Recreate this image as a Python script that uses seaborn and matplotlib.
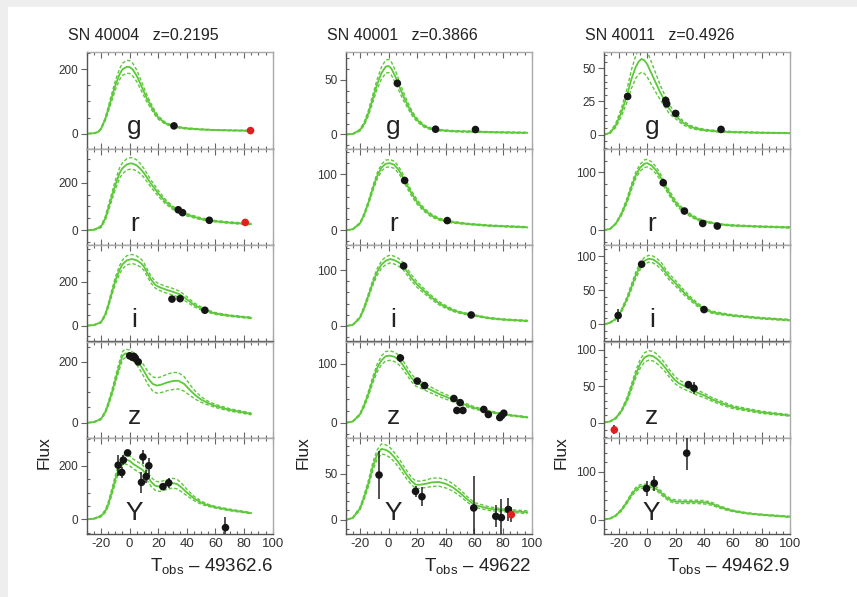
import numpy as np
import pandas as pd
import matplotlib
matplotlib.use("Agg")
import matplotlib.pyplot as plt
from matplotlib.ticker import MultipleLocator, FixedLocator
from matplotlib.patches import Rectangle
import seaborn as sns

# ---------------- data ----------------
sn_names = ["SN 40004", "SN 40001", "SN 40011"]
sn_z = ["z=0.2195", "z=0.3866", "z=0.4926"]
t_offsets = ["49362.6", "49622", "49462.9"]
bands = ["g", "r", "i", "z", "Y"]

# SN 40004 model curves (t, flux, half-width of band)
a_g_t = [-29,-25,-22,-20,-17,-15,-12,-10,-7,-5,-2,0,2,5,8,10,12,15,18,20,25,30,35,40,50,60,70,85]
a_g_f = [0,1,5,15,45,75,120,150,185,200,208,207,200,180,150,130,110,85,62,50,32,24,19,16,13,11,10,9]
a_g_w = [0,0,1,2,5,8,12,14,17,19,20,20,20,18,15,13,11,8,6,5,3,2,2,2,1,1,1,1]
a_r_t = [-29,-25,-20,-17,-15,-12,-10,-7,-5,-2,0,2,5,8,10,15,20,25,30,35,40,50,60,70,85]
a_r_f = [0,2,15,50,90,150,190,240,260,276,280,280,272,255,240,195,155,120,95,78,65,48,38,32,26]
a_r_w = [0,1,4,8,12,16,19,22,23,24,24,24,23,21,19,15,12,9,7,6,5,4,3,3,3]
a_i_t = [-29,-25,-20,-17,-15,-12,-10,-7,-5,-2,0,2,5,8,10,12,15,18,20,25,30,35,40,45,50,55,60,70,85]
a_i_f = [0,2,15,50,90,160,205,255,280,298,302,304,298,285,270,245,210,186,178,165,155,143,120,95,78,65,55,45,35]
a_i_w = [0,1,3,6,9,13,16,19,20,21,21,21,20,19,18,17,16,15,15,15,15,14,12,9,7,5,4,3,3]
a_z_t = [-29,-25,-20,-17,-15,-12,-10,-7,-5,-3,0,3,5,8,10,13,16,19,22,26,30,34,38,42,46,50,55,60,70,85]
a_z_f = [0,2,12,35,60,105,140,190,220,228,225,215,205,185,170,145,128,122,125,132,137,138,128,108,90,76,64,55,42,29]
a_z_w = [0,1,2,4,6,9,11,13,14,14,14,14,15,17,19,21,23,25,26,27,28,27,24,18,13,9,6,5,4,3]
a_Y_t = [-29,-25,-20,-17,-15,-12,-10,-7,-5,-3,0,3,6,9,12,15,18,21,25,30,33,36,40,45,50,55,60,70,85]
a_Y_f = [0,2,12,30,55,110,150,200,220,225,218,205,195,185,165,140,125,122,128,135,132,120,100,78,62,52,45,35,23]
a_Y_w = [0,1,3,5,8,12,14,16,17,18,18,18,18,18,18,17,17,18,18,18,18,16,12,8,6,4,3,3,2]

# SN 40004 observations (t, flux, error, red flag)
a_g_pt = [31, 84.5];  a_g_pf = [24, 9.4];  a_g_pe = [2, 2];  a_g_pr = [0, 1]
a_r_pt = [34, 37, 55.7, 80.8];  a_r_pf = [86, 74, 42, 33];  a_r_pe = [3, 3, 4, 4];  a_r_pr = [0, 0, 0, 1]
a_i_pt = [29.6, 35.3, 52.6];  a_i_pf = [121, 123, 70];  a_i_pe = [3, 3, 3];  a_i_pr = [0, 0, 0]
a_z_pt = [0, 2, 3, 4, 6];  a_z_pf = [220, 215, 218, 212, 200];  a_z_pe = [4, 4, 4, 4, 4];  a_z_pr = [0, 0, 0, 0, 0]
a_Y_pt = [-8, -5.5, -4.4, -1.4, 8.3, 9.3, 11.6, 13.4, 23.3, 27.3, 67]
a_Y_pf = [202, 175, 221, 248, 138, 233, 160, 200, 122, 136, -31]
a_Y_pe = [40, 22, 20, 10, 40, 25, 25, 30, 12, 20, 40]
a_Y_pr = [0, 0, 0, 0, 0, 0, 0, 0, 0, 0, 0]

# SN 40001 model curves
b_g_t = [-29,-25,-20,-17,-14,-11,-8,-5,-2,0,2,5,8,11,14,17,20,25,30,35,45,60,75,97]
b_g_f = [0,0.5,4,10,20,33,46,56,62,62.5,60,52,42,33,25,18,13,7.5,5,4,3,2.5,2,1.5]
b_g_w = [0,0.2,0.8,1.5,2.5,3.5,4.5,5.5,6,6,6,5.5,4.5,3.5,2.5,2,1.5,1,0.8,0.6,0.5,0.5,0.4,0.4]
b_r_t = [-29,-25,-20,-17,-14,-11,-8,-5,-2,1,4,7,10,13,16,20,25,30,35,40,45,55,70,97]
b_r_f = [0,1.5,12,28,50,75,97,112,119,120,117,108,95,80,66,50,36,26,20,16,14,11,8,5]
b_r_w = [0,0.5,1.5,2.5,3.5,4.5,5.5,6,6.5,6.5,6.5,6,5.5,5,4.5,4,3,2.5,2,1.5,1.5,1,1,1]
b_i_t = [-29,-25,-20,-17,-14,-11,-8,-5,-2,1,4,7,10,13,16,20,25,30,35,40,45,50,58,70,80,97]
b_i_f = [0,2,15,33,55,78,97,110,117,120,118,114,108,97,86,74,62,51,41,34,28,24,19.6,14,11.5,9]
b_i_w = [0,0.5,1.5,3,4,5,6,6.5,7,7,7,7,6.5,6,5.5,5,4,3.5,3,2.5,2,1.5,1.2,1,1,1]
b_z_t = [-29,-25,-20,-17,-14,-11,-8,-5,-2,1,4,7,10,13,16,19,22,25,30,35,40,45,50,55,60,70,80,97]
b_z_f = [0,2,14,30,50,73,93,106,113,114,112,107,98,87,76,68,65,61,55,49,44,39,34,29,25,19,14,9]
b_z_w = [0,0.5,1.5,3,4,5.5,6.5,7.5,8,8,8,8,7.5,7,6.5,6,6,5.5,5,4.5,4,3.5,3,2.5,2,1.5,1,1]
b_Y_t = [-29,-25,-20,-17,-14,-11,-8,-5,-2,1,4,7,10,13,16,19,22,26,30,35,40,45,50,55,60,70,80,97]
b_Y_f = [0,2,12,25,40,58,71,77,76,73,68,62,55,48,42,38,38,39,40.5,41,39,35,29,22,16,12,10,8]
b_Y_w = [0,0.5,1.5,2.5,3.5,4.5,5,5.5,5.5,5.5,5,5,4.5,4.5,4,4,4,4,4.5,4.5,4.5,4,3.5,3,2.5,2,1.5,1.5]

# SN 40001 observations
b_g_pt = [6.1, 32.8, 60.7];  b_g_pf = [46.7, 4.8, 4.5];  b_g_pe = [1.5, 1, 1];  b_g_pr = [0, 0, 0]
b_r_pt = [11.2, 41];  b_r_pf = [89, 17];  b_r_pe = [2, 3];  b_r_pr = [0, 0]
b_i_pt = [10.5, 57.7];  b_i_pf = [107.7, 19.6];  b_i_pe = [3, 2];  b_i_pr = [0, 0]
b_z_pt = [8.2, 20, 25.1, 45.6, 47.7, 50, 51.9, 66.5, 69.7, 77.7, 79, 80.5]
b_z_pf = [110, 70.7, 63, 41, 20.7, 34, 20.7, 22.4, 13.8, 8.6, 12, 16]
b_z_pe = [7, 3, 3, 3, 3, 4, 4, 3, 3, 3, 3, 3]
b_z_pr = [0, 0, 0, 0, 0, 0, 0, 0, 0, 0, 0, 0]
b_Y_pt = [-6.7, 18.8, 23.3, 59.5, 74.9, 78.8, 83.7, 85.8]
b_Y_pf = [48.6, 30.8, 25, 12.7, 3.6, 2.2, 11, 5.4]
b_Y_pe = [26, 6, 10, 35, 12, 20, 12, 8]
b_Y_pr = [0, 0, 0, 0, 0, 0, 0, 1]

# SN 40011 model curves
c_g_t = [-30,-26,-22,-18,-14,-11,-8,-6,-4,-2,0,3,6,9,12,15,18,21,25,30,35,40,50,60,80,100]
c_g_f = [0,1.5,7,17,30,42,51,55,57,56,53,46,39,32,26,20,16,13,9,6,4.5,3.5,2.5,2,1.5,1.2]
c_g_w = [0,0.5,1.5,3,5,7,8.5,9.5,10,10,9.5,8.5,7,5.5,4.5,3.5,2.5,2,1.5,1,0.8,0.6,0.5,0.4,0.3,0.3]
c_r_t = [-30,-26,-22,-18,-14,-11,-8,-5,-2,0,3,6,9,12,15,18,21,25,30,35,40,50,60,80,100]
c_r_f = [0,2,11,28,52,75,95,108,115,116,112,104,93,79,66,54,44,35,26,19,15,10,8,6,4.6]
c_r_w = [0,0.5,1,2.5,4,5,5.5,6,6.5,6.5,6.5,6,5.5,5,4.5,4,3.5,3,2.5,2,1.5,1,1,1,1]
c_i_t = [-30,-26,-22,-18,-14,-11,-8,-5,-2,1,4,7,10,13,16,19,22,26,30,35,40,45,50,60,80,100]
c_i_f = [0,2.5,8,20,38,55,72,85,93,96,95,91,85,76,68,62,55,46,38,29,22,18,16,13,9,6.3]
c_i_w = [0,0.5,1,2,3,4,4.5,5,5,5,5,5,5,4.5,4.5,4,4,3.5,3,2.5,2,1.5,1.5,1,1,1]
c_z_t = [-30,-26,-22,-18,-14,-11,-8,-5,-2,1,4,7,10,13,16,19,22,26,30,35,40,45,50,60,80,100]
c_z_f = [0,1.5,6,16,32,49,66,80,89,92,91,87,81,74,66,59,54,50,46,41,37,32,28,21,14,9.7]
c_z_w = [0,0.3,0.8,1.5,3,4,5,6,6.5,6.5,6.5,6.5,6,5.5,5,5,4.5,4.5,4,3.5,3,2.5,2.5,2,1.5,1]
c_Y_t = [-30,-26,-22,-18,-14,-11,-8,-5,-2,1,4,7,10,13,16,19,25,30,35,40,45,50,55,60,70,80,100]
c_Y_f = [0,2,8,20,37,52,63,69,70,69,67,63,55,47,41,38,37,37,37,36,33,27,22,18,13,10,5.6]
c_Y_w = [0,0.5,1,2,3,3.5,4,4,4,4,4,4,4,3.5,3.5,3.5,3.5,3.5,3.5,3.5,3,2.5,2,1.5,1,1,1]

# SN 40011 observations
c_g_pt = [-13.7, 12.9, 13.6, 19.9, 51.6];  c_g_pf = [28.8, 25.8, 23.2, 16, 4];  c_g_pe = [1.5, 1.5, 1.5, 1.5, 1];  c_g_pr = [0, 0, 0, 0, 0]
c_r_pt = [11.2, 26, 38.8, 49];  c_r_pf = [82, 33, 11.5, 7];  c_r_pe = [2, 2, 3, 3];  c_r_pr = [0, 0, 0, 0]
c_i_pt = [-20.3, -3.9, 39.7];  c_i_pf = [13, 88, 21.7];  c_i_pe = [9, 3, 2];  c_i_pr = [0, 0, 0]
c_z_pt = [-23, 28.8, 32.7];  c_z_pf = [-10, 52, 47];  c_z_pe = [6, 5, 8];  c_z_pr = [1, 0, 0]
c_Y_pt = [-0.5, 4.9, 27.6];  c_Y_pf = [65, 76, 139];  c_Y_pe = [15, 16, 35];  c_Y_pr = [0, 0, 0]

# axis ranges and ticks per panel
ylims_a = [(-47, 253), (-62, 342), (-73, 368), (-50, 267), (-56, 304)]
ylims_b = [(-13, 75), (-27, 146), (-28, 145), (-26, 138), (-16, 89)]
ylims_c = [(-10.5, 62), (-26, 141), (-25, 116), (-21, 111), (-31, 171)]
yticks_a = [[0, 200], [0, 200], [0, 200], [0, 200], [0, 200]]
yticks_b = [[0, 50], [0, 100], [0, 100], [0, 100], [0, 50]]
yticks_c = [[0, 25, 50], [0, 100], [0, 50, 100], [0, 50, 100], [0, 100]]
yminor_a = [50, 50, 50, 50, 50]
yminor_b = [10, 20, 20, 20, 10]
yminor_c = [5, 20, 10, 10, 20]
xticks = [-20, 0, 20, 40, 60, 80, 100]

# ---------------- assemble ----------------
g = globals()
cols = []
for p, ylims, ytk, ymn in [("a", ylims_a, yticks_a, yminor_a),
                           ("b", ylims_b, yticks_b, yminor_b),
                           ("c", ylims_c, yticks_c, yminor_c)]:
    panels = []
    for k, b in enumerate(bands):
        panels.append(dict(
            t=g[f"{p}_{b}_t"], f=g[f"{p}_{b}_f"], w=g[f"{p}_{b}_w"],
            pt=g[f"{p}_{b}_pt"], pf=g[f"{p}_{b}_pf"], pe=g[f"{p}_{b}_pe"], pr=g[f"{p}_{b}_pr"],
            ylim=ylims[k], yt=ytk[k], ym=ymn[k]))
    cols.append(panels)

# ---------------- style ----------------
sns.set_style("ticks")
plt.rcParams["font.family"] = ["Liberation Sans", "DejaVu Sans"]
plt.rcParams["mathtext.fontset"] = "custom"
plt.rcParams["mathtext.rm"] = "Liberation Sans"
plt.rcParams["mathtext.it"] = "Liberation Sans"

GREEN = "#5cc83a"
RED = "#e02020"
W, H = 857, 597

fig = plt.figure(figsize=(W / 100, H / 100), dpi=100)
fig.patch.set_facecolor("#eeeeee")
fig.patches.append(Rectangle((8 / W, 0), 1, 1 - 7 / H, transform=fig.transFigure,
                             facecolor="white", edgecolor="none", zorder=-10))

lefts = [86.7, 345.7, 604.3]
aw = 186.0
top_px, bot_px = 52.3, 534.3
ph = (bot_px - top_px) / 5

for ci, panels in enumerate(cols):
    L = lefts[ci]
    for ri, P in enumerate(panels):
        y0 = top_px + ri * ph
        ax = fig.add_axes([L / W, 1 - (y0 + ph) / H, aw / W, ph / H])
        t = np.array(P["t"], float)
        f = np.array(P["f"], float)
        w = np.array(P["w"], float)
        sns.lineplot(x=t, y=f + w, ax=ax, color=GREEN, lw=1.0, estimator=None, sort=False,
                     linestyle=(0, (2.5, 1.5)))
        sns.lineplot(x=t, y=f - w, ax=ax, color=GREEN, lw=1.0, estimator=None, sort=False,
                     linestyle=(0, (2.5, 1.5)))
        sns.lineplot(x=t, y=f, ax=ax, color=GREEN, lw=1.3, estimator=None, sort=False)

        pt = np.array(P["pt"], float)
        pf = np.array(P["pf"], float)
        pe = np.array(P["pe"], float)
        pr = np.array(P["pr"], int)
        ax.errorbar(pt, pf, yerr=pe, fmt="none", ecolor="#222222", elinewidth=1.1, zorder=3)
        df = pd.DataFrame({"t": pt, "f": pf, "red": pr})
        sns.scatterplot(data=df[df.red == 0], x="t", y="f", ax=ax, color="#151515",
                        s=30, edgecolor="none", zorder=4, legend=False)
        sns.scatterplot(data=df[df.red == 1], x="t", y="f", ax=ax, color=RED,
                        s=30, edgecolor="none", zorder=5, legend=False)

        ax.set_xlim(-30, 100)
        ax.set_ylim(*P["ylim"])
        ax.set_xlabel("")
        ax.set_ylabel("")
        ax.xaxis.set_major_locator(FixedLocator(xticks))
        ax.xaxis.set_minor_locator(MultipleLocator(5))
        ax.yaxis.set_major_locator(FixedLocator(P["yt"]))
        ax.yaxis.set_minor_locator(MultipleLocator(P["ym"]))
        ax.tick_params(axis="x", which="both", direction="in", top=True, bottom=True,
                       color="#666666", width=0.8)
        ax.tick_params(axis="x", which="major", length=4)
        ax.tick_params(axis="x", which="minor", length=2.5)
        ax.tick_params(axis="y", which="major", direction="out", length=4, width=0.8,
                       color="#666666", labelsize=8.5, labelcolor="#333333", pad=2)
        ax.tick_params(axis="y", which="minor", direction="in", length=2.5, width=0.8,
                       color="#666666")
        if ri == 4:
            ax.tick_params(axis="x", labelsize=9.5, labelcolor="#333333", pad=3)
            ax.set_xticklabels([str(v) for v in xticks])
        else:
            ax.tick_params(axis="x", labelbottom=False)
        for s in ["left", "bottom"]:
            ax.spines[s].set_color("#555555")
            ax.spines[s].set_linewidth(1.0)
        for s in ["top", "right"]:
            ax.spines[s].set_color("#aaaaaa")
            ax.spines[s].set_linewidth(1.0)
        ax.set_facecolor("white")
        ax.text(0.255, 0.22, bands[ri], transform=ax.transAxes, ha="center", va="center",
                fontsize=19, color="#222222")

    fig.text((L - 19) / W, 1 - 35.7 / H, f"{sn_names[ci]}   {sn_z[ci]}", ha="left",
             va="center", fontsize=11.5, color="#222222")
    fig.text((L - 43) / W, 1 - 453 / H, "Flux", rotation=90, ha="center", va="center",
             fontsize=12.5, color="#222222")
    fig.text((L + aw) / W, 1 - 566 / H, "T$_{\\mathregular{obs}}$ \u2013 " + t_offsets[ci],
             ha="right", va="center", fontsize=13.5, color="#222222")

fig.savefig("out.png", dpi=100, facecolor=fig.get_facecolor())
